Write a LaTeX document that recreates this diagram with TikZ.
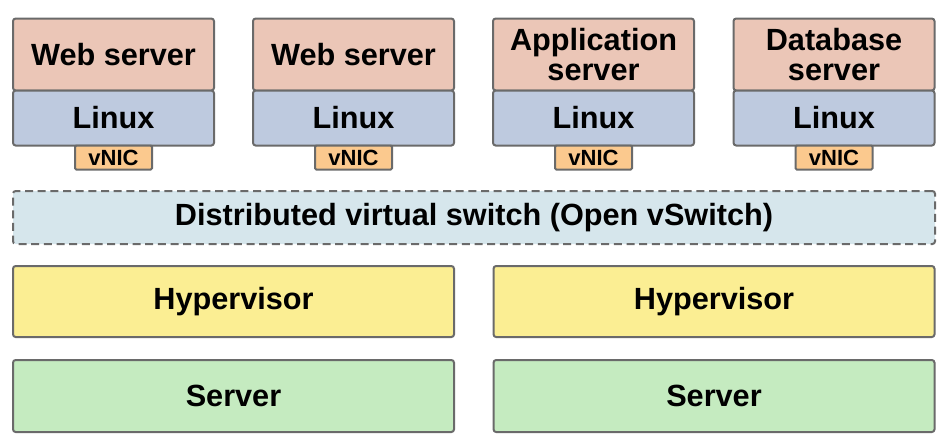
\documentclass[tikz,border=0pt]{standalone}
\usepackage{fontspec}
\setmainfont{Liberation Sans}
\usetikzlibrary{positioning}
\definecolor{appcol}{HTML}{EBC6B7}
\definecolor{oscol}{HTML}{BECADF}
\definecolor{niccol}{HTML}{FBC98E}
\definecolor{swcol}{HTML}{D6E6EC}
\definecolor{hypcol}{HTML}{FBEE93}
\definecolor{srvcol}{HTML}{C5EBC0}
\definecolor{edgecol}{HTML}{6A6A6A}

\begin{document}
\begin{tikzpicture}[x=0.75pt, y=-0.75pt, node distance=0pt,
    box/.style={draw=edgecol, line width=1.5pt, rounded corners=2pt, inner sep=0pt,
      outer sep=0pt, font=\fontsize{23}{22}\selectfont\bfseries, align=center},
    appbox/.style={box, fill=appcol, minimum width=150.75pt, minimum height=54pt},
    osbox/.style={box, fill=oscol, minimum width=150.75pt, minimum height=41.25pt},
    nicbox/.style={box, fill=niccol, rounded corners=1pt, minimum width=57.75pt,
      minimum height=18pt, font=\fontsize{16.5}{18}\selectfont\bfseries},
    hostbox/.style={box, minimum width=330.75pt}]
    \useasboundingbox (0,0) rectangle (951,444);
    \foreach \x/\i/\txt in {113.5/1/Web server, 353.5/2/Web server,
                          593.5/3/Application\\server, 834/4/Database\\server} {
      \node[appbox] (app\i) at (\x,54.5) {\txt};
      \node[osbox, below=of app\i] (os\i) {Linux};
      \node[nicbox, below=of os\i] (nic\i) {vNIC};
    }
    \node[box, dash pattern=on 6pt off 3.5pt, fill=swcol, minimum width=691.5pt,
      minimum height=39.75pt] (switch) at (474,217.5) {Distributed virtual switch (Open vSwitch)};
    \node[hostbox, fill=hypcol, minimum height=53.25pt] (hyp1) at (233.5,301.5) {Hypervisor};
    \node[hostbox, fill=hypcol, minimum height=53.25pt] (hyp2) at (714,301.5) {Hypervisor};
    \node[hostbox, fill=srvcol, minimum height=54pt] (srv1) at (233.5,396) {Server};
    \node[hostbox, fill=srvcol, minimum height=54pt] (srv2) at (714,396) {Server};
\end{tikzpicture}
\end{document}
